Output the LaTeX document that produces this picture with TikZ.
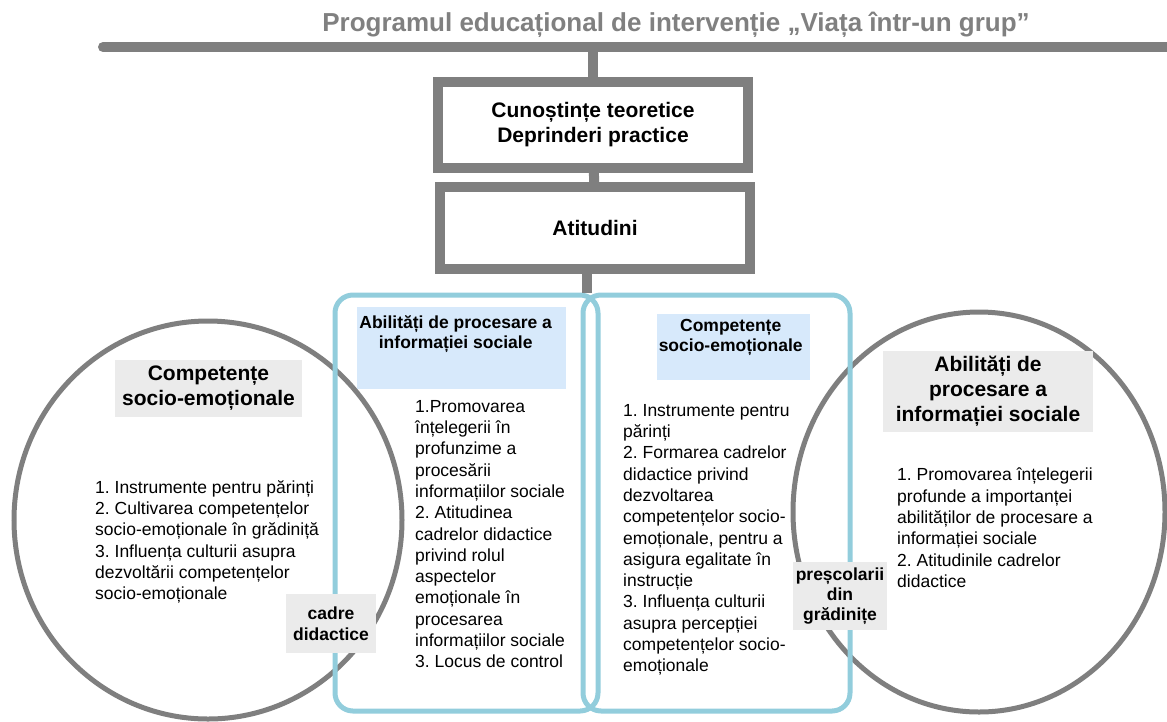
\documentclass[tikz,border=0pt]{standalone}
\usepackage{fontspec}
\setmainfont{Liberation Sans}
\usetikzlibrary{positioning}
\definecolor{linegray}{RGB}{127,127,127}
\definecolor{titlegray}{RGB}{128,128,128}
\definecolor{aqua}{RGB}{146,205,220}
\definecolor{paleblue}{RGB}{215,233,251}
\definecolor{labelgray}{RGB}{235,235,235}
\frenchspacing

\begin{document}
\begin{tikzpicture}[x=1pt,y=-1pt,
  bar/.style={draw=linegray,line width=10pt},
  levelbox/.style={draw=linegray,line width=10pt,fill=white,minimum width=310pt,
    font=\bfseries\fontsize{21}{25}\selectfont,align=center},
  ring/.style={draw=linegray,line width=5pt},
  panel/.style={draw=aqua,line width=5pt,rounded corners=18pt},
  head/.style={fill=paleblue,anchor=north west,inner sep=0pt},
  headtext/.style={inner sep=0pt,font=\bfseries\fontsize{17.5}{20.5}\selectfont,align=center},
  tag/.style={fill=labelgray,inner sep=0pt,font=\bfseries\fontsize{17.5}{21.5}\selectfont,align=center},
  bigtag/.style={tag,font=\bfseries\fontsize{21}{25}\selectfont},
  body/.style={anchor=north west,inner sep=0pt,font=\fontsize{17.5}{21.3}\selectfont,align=left}]

\useasboundingbox (0,0) rectangle (1167,721);

% title and the long bar
\node[font=\bfseries\fontsize{26}{30}\selectfont,text=titlegray,anchor=base] (title) at (676,31)
  {Programul educațional de intervenție „Viața într-un grup”};
\coordinate (barL) at (103,47);
\coordinate (barR) at (1175,47);
\draw[bar,line cap=round] (barL) -- (barR);

% the two levels
\node[levelbox,minimum height=86pt] (know) at (593,125) {Cunoștințe teoretice\\Deprinderi practice};
\node[levelbox,minimum height=82pt] (att) at (595,228) {Atitudini};
\draw[bar] (know.north) -- (know.north |- barL);
\draw[bar] (know) -- (att);

% the two circles
\draw[ring] (208,520) ellipse [x radius=194pt,y radius=199pt];
\draw[ring] (979,512) ellipse [x radius=186pt,y radius=200pt];

% the two panels
\draw[panel] (335,295) rectangle (598,711);
\draw[panel] (583,295) rectangle (850,711);
\coordinate (split) at (587,293);
\draw[bar] (att.south -| split) -- (split);

% panel headings
\node[head,minimum width=209pt,minimum height=82pt] (abHead) at (357,307) {};
\node[headtext,below=8pt of abHead.north,xshift=-6pt] (abTitle) {Abilități de procesare a\\informației sociale};
\node[head,minimum width=153pt,minimum height=66pt] (ceHead) at (657,314) {};
\node[headtext,below=5pt of ceHead.north,xshift=-3pt] (ceTitle) {Competențe\\socio-emoționale};

% panel lists
\node[body] (abList) at (415,400) {1.Promovarea\\înțelegerii în\\profunzime a\\procesării\\informațiilor sociale\\2. Atitudinea\\cadrelor didactice\\privind rolul\\aspectelor\\emoționale în\\procesarea\\informațiilor sociale\\3. Locus de control};
\node[body] (ceList) at (623,404) {1. Instrumente pentru\\părinți\\2. Formarea cadrelor\\didactice privind\\dezvoltarea\\competențelor socio-\\emoționale, pentru a\\asigura egalitate în\\instrucție\\3. Influența culturii\\asupra percepției\\competențelor socio-\\emoționale};

% circle headings and lists
\node[bigtag,minimum width=187pt,minimum height=57pt] (ceTag) at (208.5,388.5) {Competențe\\socio-emoționale};
\node[bigtag,minimum width=210pt,minimum height=81pt] (abTag) at (988,391.5) {Abilități de\\procesare a\\informației sociale};
\node[body] (ceBody) at (95,480) {1. Instrumente pentru părinți\\2. Cultivarea competențelor\\socio-emoționale în grădiniță\\3. Influența culturii asupra\\dezvoltării competențelor\\socio-emoționale};
\node[body] (abBody) at (897,468) {1. Promovarea înțelegerii\\profunde a importanței\\abilităților de procesare a\\informației sociale\\2. Atitudinile cadrelor\\didactice};

% target groups
\node[tag,minimum width=90pt,minimum height=59pt] (teachers) at (331,623.5) {cadre\\didactice};
\node[tag,minimum width=94pt,minimum height=68pt,font=\bfseries\fontsize{17.5}{20}\selectfont] (kids) at (840,596) {preșcolarii\\din\\grădinițe};
\end{tikzpicture}
\end{document}
